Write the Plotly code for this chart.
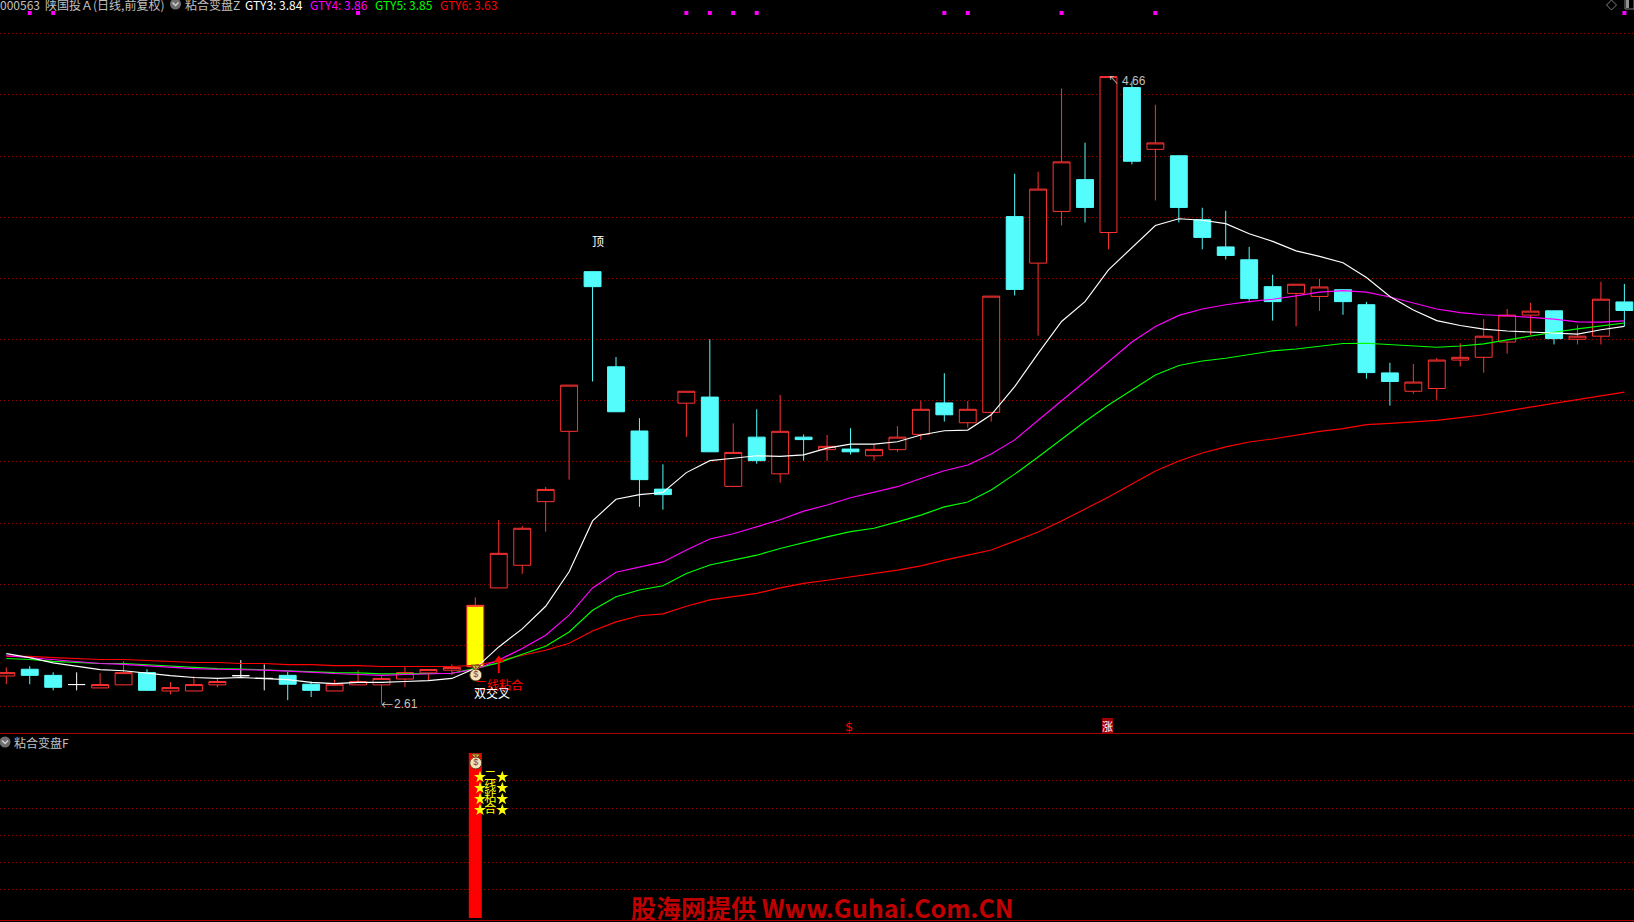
import plotly.graph_objects as go

W, H = 1634, 922

open_ = [2.700,2.722,2.702,2.672,2.661,2.671,2.711,2.651,2.651,2.671,2.701,2.692,2.702,2.673,2.651,2.671,2.671,2.690,2.710,2.719,
         2.730,2.988,3.062,3.270,3.500,4.022,3.711,3.501,3.311,3.592,3.612,3.320,3.481,3.361,3.481,3.440,3.442,3.420,3.440,3.490,
         3.593,3.528,3.562,4.202,4.050,4.219,4.323,4.150,4.624,4.422,4.401,4.192,4.103,4.061,3.973,3.951,3.941,3.963,3.914,3.691,
         3.631,3.640,3.733,3.742,3.792,3.880,3.894,3.801,3.811,3.923]
high = [2.728,2.732,2.712,2.712,2.709,2.748,2.722,2.680,2.699,2.694,2.752,2.738,2.713,2.682,2.688,2.719,2.699,2.730,2.721,2.738,
        2.957,3.210,3.190,3.318,3.651,4.022,3.743,3.543,3.392,3.631,3.801,3.526,3.572,3.619,3.490,3.488,3.510,3.458,3.517,3.600,
        3.690,3.599,3.942,4.342,4.349,4.621,4.444,4.660,4.644,4.568,4.401,4.231,4.221,4.103,4.012,3.981,3.999,3.963,3.923,3.724,
        3.720,3.740,3.788,3.867,3.900,3.920,3.894,3.848,3.989,3.982]
low = [2.673,2.673,2.653,2.653,2.661,2.671,2.653,2.640,2.651,2.663,2.694,2.653,2.621,2.631,2.651,2.671,2.610,2.664,2.686,2.703,
       2.730,2.988,3.034,3.172,3.342,3.663,3.564,3.253,3.244,3.482,3.433,3.320,3.394,3.332,3.404,3.404,3.424,3.404,3.433,3.472,
       3.532,3.512,3.532,3.944,3.813,4.173,4.183,4.095,4.373,4.255,4.183,4.095,4.062,3.927,3.862,3.843,3.894,3.881,3.672,3.584,
       3.623,3.603,3.712,3.692,3.754,3.815,3.784,3.784,3.784,3.843]
close = [2.711,2.702,2.663,2.672,2.672,2.711,2.653,2.662,2.672,2.682,2.701,2.692,2.673,2.653,2.673,2.682,2.692,2.711,2.721,2.728,
         2.931,3.101,3.183,3.310,3.651,3.973,3.564,3.342,3.293,3.631,3.433,3.431,3.404,3.500,3.473,3.451,3.433,3.441,3.481,3.572,
         3.554,3.572,3.942,3.964,4.292,4.381,4.232,4.660,4.383,4.443,4.232,4.134,4.075,3.934,3.924,3.981,3.972,3.924,3.692,3.663,
         3.661,3.733,3.742,3.811,3.880,3.893,3.803,3.811,3.932,3.895]

gty3 = [2.773,2.760,2.743,2.731,2.721,2.717,2.708,2.701,2.695,2.692,2.695,2.692,2.688,2.679,2.675,2.679,2.679,2.682,2.685,2.692,
        2.725,2.795,2.854,2.928,3.041,3.207,3.278,3.293,3.300,3.365,3.404,3.412,3.420,3.418,3.423,3.445,3.458,3.458,3.466,3.488,
        3.502,3.504,3.554,3.646,3.755,3.859,3.924,4.028,4.099,4.173,4.195,4.190,4.179,4.146,4.121,4.090,4.072,4.051,4.003,3.941,
        3.897,3.862,3.846,3.834,3.828,3.824,3.822,3.818,3.832,3.843]
gty4 = [2.766,2.760,2.755,2.747,2.741,2.738,2.733,2.729,2.724,2.722,2.721,2.719,2.716,2.711,2.708,2.705,2.702,2.705,2.706,2.709,
        2.722,2.752,2.790,2.833,2.899,2.988,3.039,3.057,3.073,3.112,3.148,3.165,3.187,3.211,3.239,3.259,3.283,3.302,3.319,3.346,
        3.371,3.390,3.426,3.472,3.537,3.600,3.663,3.728,3.792,3.843,3.879,3.900,3.914,3.924,3.932,3.943,3.955,3.960,3.955,3.939,
        3.919,3.900,3.888,3.881,3.878,3.873,3.867,3.858,3.857,3.861]
gty5 = [2.757,2.754,2.748,2.744,2.741,2.741,2.737,2.731,2.728,2.724,2.723,2.720,2.717,2.713,2.711,2.710,2.707,2.707,2.708,2.709,
        2.725,2.743,2.771,2.797,2.844,2.915,2.959,2.981,2.995,3.035,3.063,3.079,3.095,3.117,3.137,3.155,3.172,3.183,3.204,3.226,
        3.253,3.269,3.308,3.360,3.416,3.475,3.532,3.586,3.635,3.684,3.715,3.730,3.739,3.752,3.763,3.769,3.779,3.787,3.788,3.783,
        3.778,3.775,3.779,3.786,3.799,3.812,3.824,3.835,3.845,3.854]
gty6 = [2.764,2.764,2.760,2.757,2.754,2.754,2.751,2.747,2.744,2.744,2.741,2.741,2.737,2.737,2.734,2.734,2.731,2.731,2.731,2.731,
        2.735,2.749,2.768,2.784,2.807,2.847,2.877,2.897,2.903,2.928,2.949,2.959,2.970,2.988,3.003,3.013,3.024,3.035,3.046,3.060,
        3.079,3.095,3.112,3.141,3.171,3.207,3.246,3.285,3.328,3.370,3.403,3.429,3.449,3.465,3.475,3.488,3.500,3.509,3.522,3.526,
        3.530,3.536,3.545,3.554,3.567,3.579,3.592,3.603,3.617,3.628]

signal_bars = [1, 2, 15, 29, 30, 31, 32, 40, 41, 45, 49, 69]
price_grid = [2.6, 2.8, 3.0, 3.2, 3.4, 3.6, 3.8, 4.0, 4.2, 4.4, 4.6, 4.8]
lower_grid = [1.020, 0.812, 0.612, 0.412, 0.212]
burst_bar = 20
burst_value = 1.222
star_rows = [1.044, 0.963, 0.881, 0.800]
caption_chars = ["二", "线", "粘", "合"]

RED, CYAN = "#ff3232", "#54fcfc"
CJK = "Noto Sans CJK SC"
xs = list(range(len(open_)))

fig = go.Figure()
def candles(idx, line, fill):
    side = dict(line=dict(color=line, width=1), fillcolor=fill)
    fig.add_trace(go.Candlestick(x=idx, open=[open_[i] for i in idx], high=[high[i] for i in idx],
                                 low=[low[i] for i in idx], close=[close[i] for i in idx],
                                 increasing=side, decreasing=side, whiskerwidth=0,
                                 hoverinfo="skip", showlegend=False))

up = [i for i in xs if close[i] > open_[i] and i != burst_bar]
down = [i for i in xs if close[i] < open_[i]]
flat = [i for i in xs if close[i] == open_[i]]
candles(up, RED, "#000000")
candles(down, CYAN, CYAN)
candles(flat, "#ffffff", "#ffffff")
candles([burst_bar], RED, "#ffff00")

for vals, col in [(gty6, "#ff0000"), (gty5, "#00ff00"), (gty4, "#ff00ff"), (gty3, "#ffffff")]:
    fig.add_trace(go.Scatter(x=xs, y=vals, mode="lines", line=dict(color=col, width=1.15),
                             hoverinfo="skip", showlegend=False))

fig.add_trace(go.Scatter(x=signal_bars, y=[4.868] * len(signal_bars), mode="markers",
                         marker=dict(symbol="square", size=4, color="#ff00ff", line=dict(width=0)),
                         hoverinfo="skip", showlegend=False))

# red up arrow under the breakout
fig.add_trace(go.Scatter(x=[21, 21], y=[2.709, 2.745], mode="lines", line=dict(color="#ff0000", width=2),
                         hoverinfo="skip", showlegend=False))
fig.add_trace(go.Scatter(x=[21], y=[2.752], mode="markers",
                         marker=dict(symbol="triangle-up", size=9, color="#ff0000", line=dict(width=0)),
                         hoverinfo="skip", showlegend=False))

def bag(xax, yax, y_body, y_neck):
    fig.add_trace(go.Scatter(x=[burst_bar + 0.02], y=[y_neck], mode="markers", xaxis=xax, yaxis=yax,
                             marker=dict(symbol="triangle-down-dot", size=8, color="#d8b040", line=dict(width=1, color="#5a3a10")),
                             hoverinfo="skip", showlegend=False))
    fig.add_trace(go.Scatter(x=[burst_bar + 0.02], y=[y_body], mode="markers+text", xaxis=xax, yaxis=yax,
                             marker=dict(symbol="circle", size=12, color="#f6e2b8", line=dict(width=1, color="#5a3a10")),
                             text=["$"], textposition="middle center", textfont=dict(size=9, color="#8b3a2a", family="Liberation Sans"),
                             hoverinfo="skip", showlegend=False))

bag("x", "y", 2.703, 2.729)

# lower pane
fig.add_trace(go.Bar(x=[burst_bar], y=[burst_value], width=0.554, marker=dict(color="#ff0000", line=dict(width=0)),
                     xaxis="x2", yaxis="y2", hoverinfo="skip", showlegend=False))
bag("x2", "y2", 1.148, 1.2)
for xpos in (burst_bar + 0.2, burst_bar + 1.15):
    fig.add_trace(go.Scatter(x=[xpos] * 4, y=star_rows, mode="markers", xaxis="x2", yaxis="y2",
                             marker=dict(symbol="star", size=9, color="#ffff00", line=dict(width=0)),
                             hoverinfo="skip", showlegend=False))
fig.add_trace(go.Scatter(x=[burst_bar + 0.64] * 4, y=star_rows, mode="text", xaxis="x2", yaxis="y2",
                         text=caption_chars, textposition="middle center",
                         textfont=dict(size=12, color="#ffff00", family=CJK),
                         hoverinfo="skip", showlegend=False))

px = lambda x: x / W
py = lambda y: 1 - y / H
anns = []
def label(text, x, y, color, size=12, anchor="left", family=CJK, **kw):
    anns.append(dict(text=text, x=px(x), y=py(y), xref="paper", yref="paper", showarrow=False,
                     xanchor=anchor, yanchor="middle", borderpad=0, borderwidth=0,
                     font=dict(family=family, size=size, color=color), **kw))

GREY = "#c0c0c0"
label("000563", 0, 4, GREY)
label("陕国投Ａ", 45, 4, GREY)
label("(日线,前复权)", 93, 4, GREY)
label("粘合变盘Z", 185, 4, GREY)
label("GTY3: 3.84", 245, 4, "#ffffff")
label("GTY4: 3.86", 310, 4, "#ff00ff")
label("GTY5: 3.85", 375, 4, "#00ff00")
label("GTY6: 3.63", 440, 4, "#ff0000")
label("粘合变盘F", 14, 742, GREY)
label("顶", 597.7, 240, "#ffffff", anchor="center")
label("↖", 1113, 79, GREY, size=11, anchor="center")
label("4.66", 1134, 81.5, GREY, anchor="center", family="Liberation Sans")
label("←", 387, 704, GREY, anchor="center")
label("2.61", 405.5, 704, GREY, anchor="center", family="Liberation Sans")
label("二线粘合", 475, 684.5, "#ff0000")
label("双交叉", 474, 692, "#ffffff")
label("$", 849, 726, "#ff0000", size=13, anchor="center", family="DejaVu Sans")
label("涨", 1107.3, 725.5, "#ffffff", size=11, anchor="center", bgcolor="#a00000")
label("<b>股海网提供 Www.Guhai.Com.CN</b>", 823, 906.5, "#c00000", size=25, anchor="center")

shapes = [
    # grid gap behind the lower-pane bar
    dict(type="rect", xref="paper", yref="paper", x0=px(466), x1=px(485), y0=py(918), y1=py(753),
         layer="between", fillcolor="#000000", line=dict(width=0)),
    # header collapse icons
    dict(type="circle", xref="paper", yref="paper", x0=px(170), x1=px(181), y0=py(-1.5), y1=py(9.5),
         fillcolor="#6e6e6e", line=dict(width=0)),
    dict(type="path", xref="paper", yref="paper", line=dict(color="#d0d0d0", width=1.5),
         path=f"M {px(172.5)} {py(2.5)} L {px(175.5)} {py(5.5)} L {px(178.5)} {py(2.5)}"),
    dict(type="circle", xref="paper", yref="paper", x0=px(-0.5), x1=px(10.5), y0=py(736.5), y1=py(747.5),
         fillcolor="#6e6e6e", line=dict(width=0)),
    dict(type="path", xref="paper", yref="paper", line=dict(color="#d0d0d0", width=1.5),
         path=f"M {px(2)} {py(740.5)} L {px(5)} {py(743.5)} L {px(8)} {py(740.5)}"),
    # top-right window glyphs
    dict(type="path", xref="paper", yref="paper", line=dict(color="#808080", width=1),
         path=f"M {px(1606.5)} {py(5)} L {px(1611.5)} {py(0)} L {px(1616.5)} {py(5)} L {px(1611.5)} {py(10)} Z"),
    dict(type="rect", xref="paper", yref="paper", x0=px(1625), x1=px(1634), y0=py(9), y1=py(-1),
         line=dict(color="#808080", width=1), fillcolor="#000000"),
    dict(type="rect", xref="paper", yref="paper", x0=px(1626), x1=px(1629), y0=py(8), y1=py(0),
         line=dict(width=0), fillcolor="#909090"),
]

x_range = [-0.2687, 69.41]
GRID = "#9a0000"
DOT = "1px,3px"
fig.update_layout(
    width=W, height=H, margin=dict(l=0, r=0, t=0, b=0),
    paper_bgcolor="#000000", plot_bgcolor="#000000", showlegend=False,
    boxgap=0.28, boxgroupgap=0, boxmode="overlay",
    annotations=anns, shapes=shapes,
    xaxis=dict(domain=[0, 1], range=x_range, anchor="y", showgrid=False, zeroline=False, showticklabels=False,
               ticks="", showline=True, linecolor="#a80000", linewidth=1, rangeslider=dict(visible=False)),
    yaxis=dict(domain=[(H - 733.3) / H, 1], range=[2.5126, 4.9103], showticklabels=False, ticks="", zeroline=False,
               tickmode="array", tickvals=price_grid, showgrid=True, gridcolor=GRID, griddash=DOT, gridwidth=1),
    xaxis2=dict(domain=[0, 1], range=x_range, anchor="y2", showgrid=False, zeroline=False, showticklabels=False,
                ticks="", showline=True, linecolor="#a80000", linewidth=1),
    yaxis2=dict(domain=[(H - 920) / H, (H - 733.3) / H], range=[-0.0148, 1.368], showticklabels=False, ticks="",
                zeroline=False, tickmode="array", tickvals=lower_grid, showgrid=True, gridcolor=GRID, griddash=DOT, gridwidth=1),
)

fig.write_html("out.html", config={"displayModeBar": False},
               post_script="document.body.style.margin='0';document.body.style.background='#000';document.documentElement.style.overflow='hidden';")
